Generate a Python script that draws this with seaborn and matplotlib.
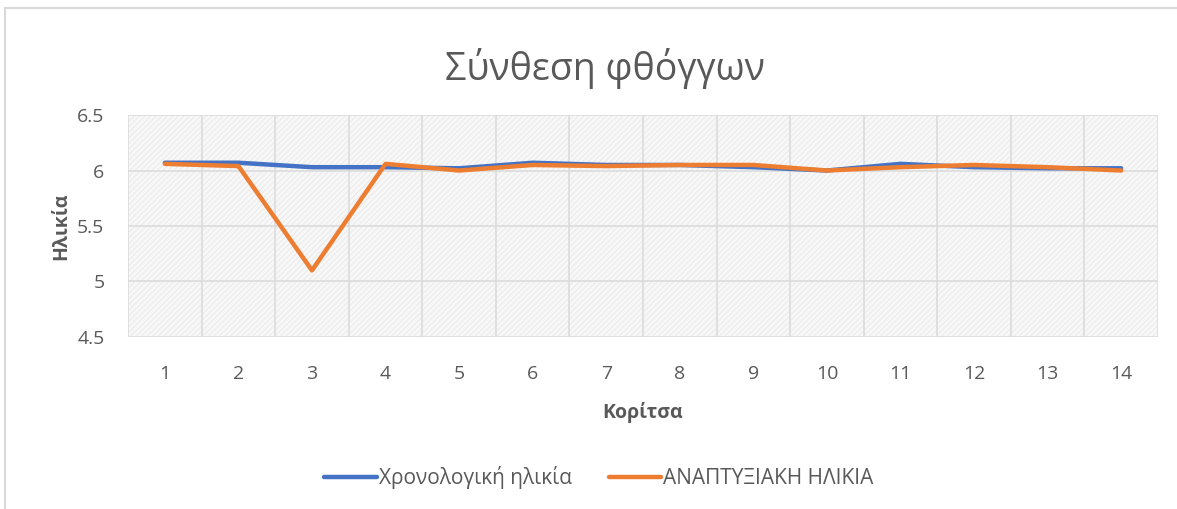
import pandas as pd
import numpy as np
import matplotlib.pyplot as plt
import seaborn as sns
from matplotlib.patches import Rectangle

# data
girls = list(range(1, 15))
chrono_age = [6.07, 6.07, 6.03, 6.03, 6.02, 6.07, 6.05, 6.05, 6.03, 6.00, 6.06, 6.03, 6.02, 6.02]
dev_age = [6.06, 6.04, 5.10, 6.06, 6.00, 6.05, 6.04, 6.05, 6.05, 6.00, 6.03, 6.05, 6.03, 6.00]
series_names = ["Χρονολογική ηλικία", "ΑΝΑΠΤΥΞΙΑΚΗ ΗΛΙΚΙΑ"]
y_ticks = [4.5, 5, 5.5, 6, 6.5]
y_ticklabels = ["4.5", "5", "5.5", "6", "6.5"]

df = pd.DataFrame({
    "girl": girls * 2,
    "age": chrono_age + dev_age,
    "series": [series_names[0]] * len(girls) + [series_names[1]] * len(girls),
})

sns.set_style("white")
plt.rcParams['font.family'] = ['Open Sans', 'DejaVu Sans']
plt.rcParams['hatch.color'] = '#ebebeb'
plt.rcParams['hatch.linewidth'] = 0.8

txt = '#595959'
fig = plt.figure(figsize=(11.77, 5.09), dpi=100)
fig.patches.append(Rectangle((0.004, -0.01), 1.0, 0.995, transform=fig.transFigure,
                             fill=False, edgecolor='#d9d9d9', linewidth=1.5))
ax = fig.add_axes([0.1088, 0.338, 0.875, 0.436])

# hatched plot background
ax.add_patch(Rectangle((0, 0), 1, 1, transform=ax.transAxes, facecolor='#f8f8f8',
                       edgecolor='#ebebeb', hatch='//////', linewidth=0, zorder=0))

sns.lineplot(data=df, x="girl", y="age", hue="series", palette=["#4472C4", "#ED7D31"],
             linewidth=3.2, ax=ax, legend=True, zorder=3)

ax.set_xlim(0.5, 14.5)
ax.set_ylim(4.5, 6.5)
ax.set_xticks(girls)
ax.set_xticklabels([str(g) for g in girls])
ax.set_xticks(np.arange(0.5, 15, 1), minor=True)
ax.set_yticks(y_ticks)
ax.set_yticklabels(y_ticklabels)
ax.tick_params(axis='both', which='both', length=0, labelsize=14, colors=txt, pad=20)
ax.tick_params(axis='y', pad=17)
ax.grid(which='minor', axis='x', color='#dcdcdc', linewidth=1.2, zorder=1)
ax.grid(which='major', axis='y', color='#dcdcdc', linewidth=1.2, zorder=1)
ax.grid(which='major', axis='x', visible=False)
for s in ax.spines.values():
    s.set_visible(False)
ax.set_axisbelow(True)

ax.set_xlabel("Κορίτσα", fontsize=14, fontweight='bold', color=txt, labelpad=14)
ax.set_ylabel("Ηλικία", fontsize=14, fontweight='bold', color=txt, labelpad=4)
fig.text(0.514, 0.865, "Σύνθεση φθόγγων", ha='center', va='center', fontsize=27, color=txt)

handles, labels = ax.get_legend_handles_labels()
ax.legend(handles, labels, loc='center', bbox_to_anchor=(0.509, 0.062),
          bbox_transform=fig.transFigure, ncol=2, frameon=False, fontsize=15,
          labelcolor=txt, handlelength=2.5, handletextpad=0.1, columnspacing=1.8)

plt.savefig("out.png", dpi=100)
